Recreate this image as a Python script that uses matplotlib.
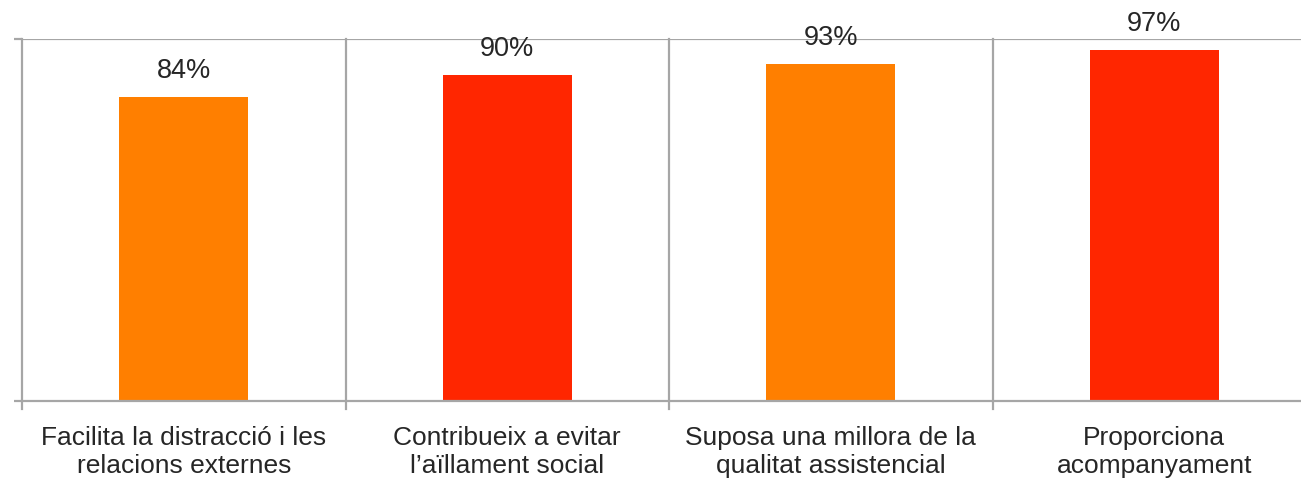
"""Bar chart: percentage agreement per statement."""

import matplotlib

matplotlib.use("Agg")

import matplotlib.pyplot as plt

categories = [
    "Facilita la distracció i les\nrelacions externes",
    "Contribueix a evitar\nl’aïllament social",
    "Suposa una millora de la\nqualitat assistencial",
    "Proporciona\nacompanyament",
]
values = [84, 90, 93, 97]
colors = ["#FF7F00", "#FF2600", "#FF7F00", "#FF2600"]

GRID = "#A6A6A6"
TEXT = "#262626"

plt.rcParams["font.family"] = ["Liberation Sans", "DejaVu Sans"]

W, H = 1301, 486
fig = plt.figure(figsize=(W / 100, H / 100), dpi=100)
ax = fig.add_axes([22 / W, 1 - 401 / H, (1316 - 22) / W, (401 - 39) / H])

x = list(range(len(values)))
ax.bar(x, values, width=0.40, color=colors, zorder=2)

ax.set_xlim(-0.5, len(values) - 0.5)
ax.set_ylim(0, 100)

for xi, v in zip(x, values):
    ax.annotate(f"{v}%", (xi, v), xytext=(0, 9.5), textcoords="offset points",
                ha="center", va="bottom", fontsize=19.5, color=TEXT)

# category separators, running a little below the baseline
for b in [-0.5, 0.5, 1.5, 2.5]:
    ax.plot([b, b], [-2.2, 100], color=GRID, lw=1.6, clip_on=False, zorder=1)
ax.axhline(100, color=GRID, lw=1.6, zorder=1)

for s in ["top", "right", "left"]:
    ax.spines[s].set_visible(False)
ax.spines["bottom"].set_color(GRID)
ax.spines["bottom"].set_linewidth(1.6)

ax.set_yticks([0, 100])
ax.set_yticklabels([])
ax.tick_params(axis="y", length=6, width=1.6, color=GRID)
ax.set_xticks(x)
ax.set_xticklabels(categories, fontsize=19, color=TEXT, linespacing=1.22)
ax.tick_params(axis="x", length=0, pad=18)

fig.savefig("out.png", dpi=100)
